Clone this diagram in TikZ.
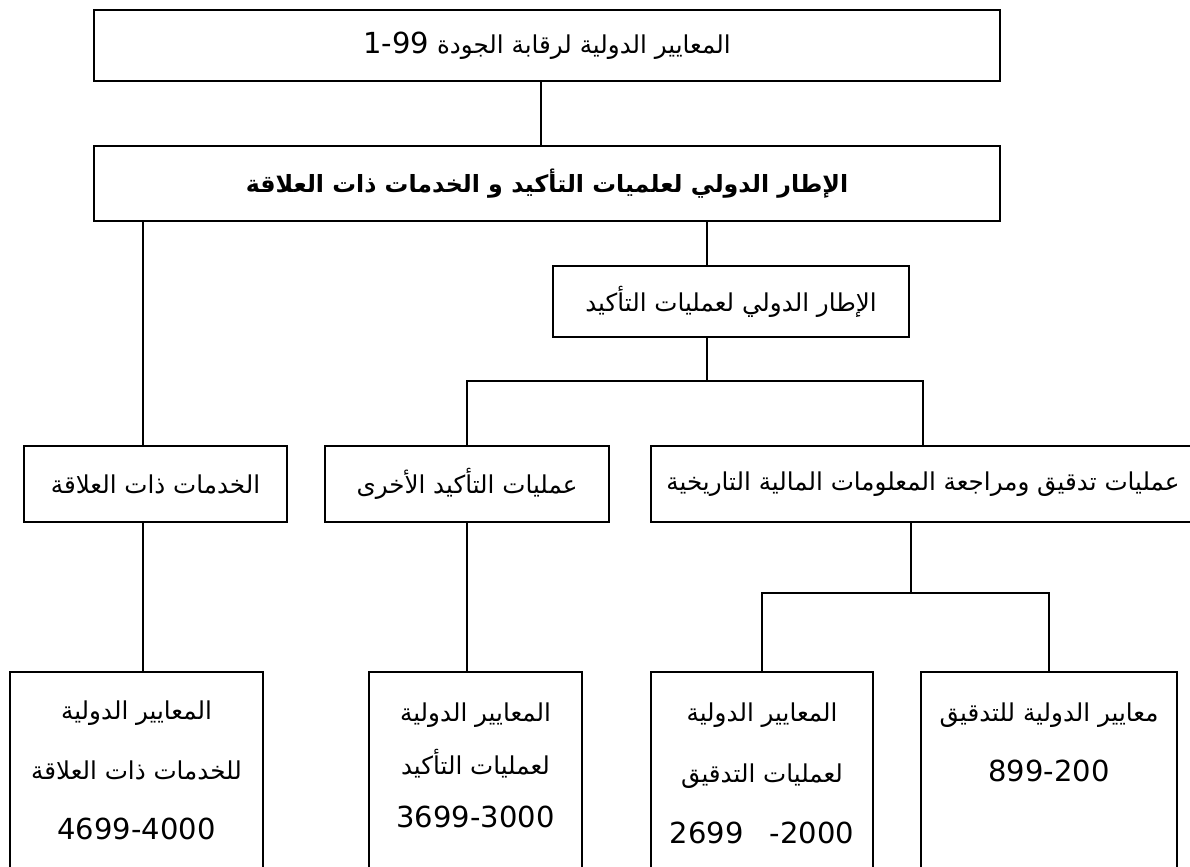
\documentclass[tikz,border=0pt]{standalone}
\usepackage{fontspec}
\newfontfamily\arabicfont[Script=Arabic]{DejaVu Sans}
\newfontfamily\numfont{DejaVu Sans}
\newcommand{\num}[1]{{\numfont\fontsize{16.5}{18}\selectfont #1}}
\TeXXeTstate=1
\usetikzlibrary{positioning}

\begin{document}
\begin{tikzpicture}[x=0.02cm,y=-0.02cm,
	box/.style={draw,line width=1pt,inner sep=0pt},
	lines/.style={align=center,font=\arabicfont\fontsize{14}{#1}\selectfont},
	every node/.style={font=\arabicfont\fontsize{14}{17}\selectfont}]
	\useasboundingbox (0,0) rectangle (1190,866);
	\clip (0,0) rectangle (1190,866);
	\node[box,minimum width=18.12cm,minimum height=1.42cm] (top) at (547,45.5) {\beginR المعايير الدولية لرقابة الجودة \beginL\num{1-99}\endL\endR};
	\node[box,minimum width=18.12cm,minimum height=1.5cm,font=\arabicfont\bfseries\fontsize{13.5}{16}\selectfont] (frame) at (547,183.5) {\beginR الإطار الدولي لعلميات التأكيد و الخدمات ذات العلاقة\endR};
	\node[box,minimum width=7.12cm,minimum height=1.42cm] (assure) at (731,301.5) {\beginR الإطار الدولي لعمليات التأكيد\endR};
	\node[box,minimum width=5.26cm,minimum height=1.52cm] (related) at (155.5,484) {\beginR الخدمات ذات العلاقة\endR};
	\node[box,minimum width=5.68cm,minimum height=1.52cm] (other) at (467,484) {\beginR عمليات التأكيد الأخرى\endR};
	\node[box,minimum width=10.88cm,minimum height=1.52cm] (hist) at (923,484) {\beginR عمليات تدقيق ومراجعة المعلومات المالية التاريخية\endR};
	\node[box,minimum width=5.06cm,minimum height=4.56cm] (stdrel) at (136.5,786) {};
	\node[box,minimum width=4.26cm,minimum height=4.56cm] (stdass) at (475.5,786) {};
	\node[box,minimum width=4.44cm,minimum height=4.56cm] (stdaud) at (762,786) {};
	\node[box,minimum width=5.12cm,minimum height=4.56cm] (stdisa) at (1049,786) {};
	\node[lines=34.1pt] (reltxt) at (136.5,770) {\beginR المعايير الدولية\endR\\\beginR للخدمات ذات العلاقة\endR\\\num{4699-4000}};
	\node[lines=30.2pt] (asstxt) at (475.5,765) {\beginR المعايير الدولية\endR\\\beginR لعمليات التأكيد\endR\\\num{3699-3000}};
	\node[lines=34.7pt] (audtxt) at (762,773) {\beginR المعايير الدولية\endR\\\beginR لعمليات التدقيق\endR\\\num{2699\hspace{0.9em}-2000}};
	\node[lines=34.1pt] (isatxt) at (1049,742) {\beginR معايير الدولية للتدقيق\endR\\\num{899-200}};
	\coordinate (k1) at (541,0);
	\coordinate (k2) at (143,0);
	\coordinate (busA) at (707,381);
	\coordinate (busB) at (911,593);
	\draw[line width=0.8pt] (top.south -| k1) -- (frame.north -| k1);
	\draw[line width=0.8pt] (frame.south -| busA) -- (assure.north -| busA);
	\draw[line width=0.8pt] (assure.south -| busA) -- (busA);
	\draw[line width=0.8pt] (other.north) |- (busA) -| (hist.north);
	\draw[line width=0.8pt] (frame.south -| k2) -- (related.north -| k2);
	\draw[line width=0.8pt] (related.south -| k2) -- (stdrel.north -| k2);
	\draw[line width=0.8pt] (other.south) -- (other.south |- stdass.north);
	\draw[line width=0.8pt] (hist.south -| busB) -- (busB);
	\draw[line width=0.8pt] (stdaud.north) |- (busB) -| (stdisa.north);
\end{tikzpicture}
\end{document}
